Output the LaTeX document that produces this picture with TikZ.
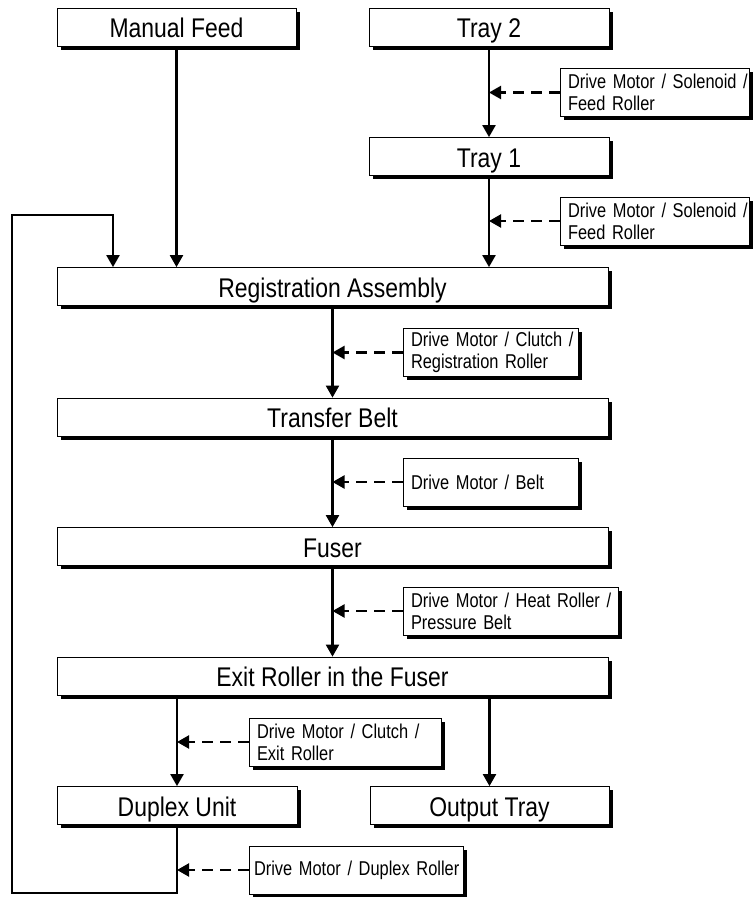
\documentclass[tikz,border=0pt]{standalone}
\usepackage{fontspec}
\setmainfont{Liberation Sans}[FakeStretch=0.85]
\newfontfamily\notefont{Liberation Sans}[FakeStretch=0.82]
\usetikzlibrary{arrows.meta,shadows}

\newcommand{\stagesize}{\fontsize{27}{30}\selectfont}
\newcommand{\notesize}{\notefont\fontsize{20}{22}\selectfont}

\begin{document}
\begin{tikzpicture}[x=1pt, y=-1pt,
  box/.style={draw, line width=0.8pt, fill=white, inner sep=0pt,
    drop shadow={shadow xshift=3.5pt, shadow yshift=-3.5pt, opacity=1, fill=black}},
  stage/.style={box, minimum width=#1, minimum height=38pt, font=\stagesize,
    text height=21pt, text depth=0pt},
  note/.style={box, text width=#1, inner xsep=8pt, minimum height=48pt,
    align=left, font=\notesize},
  flow/.style={line width=2.2pt, -{Triangle[length=12pt,width=13pt]}},
  ctrl/.style={line width=2.2pt, dash pattern=on 11pt off 7pt,
    -{Triangle[length=12pt,width=13pt]}}]
  \useasboundingbox (0,0) rectangle (755,897);

  % paper path stages
  \node[stage=239pt] (manual) at (176.5,27) {Manual Feed};
  \node[stage=240pt] (tray2) at (489,27) {Tray 2};
  \node[stage=240pt] (tray1) at (489,156.5) {Tray 1};
  \node[stage=551pt] (reg) at (332.5,286.5) {Registration Assembly};
  \node[stage=551pt] (belt) at (332.5,417) {Transfer Belt};
  \node[stage=551pt] (fuser) at (332.5,546.5) {Fuser};
  \node[stage=551pt] (exit) at (332.5,676) {Exit Roller in the Fuser};
  \node[stage=240pt] (duplex) at (177,805.5) {Duplex Unit};
  \node[stage=239pt] (output) at (489.5,805.5) {Output Tray};

  % drive parts
  \node[note=173pt] (feed2) at (654.5,92.5) {\mbox{Drive Motor / Solenoid /}\\Feed Roller};
  \node[note=173pt] (feed1) at (654.5,221) {\mbox{Drive Motor / Solenoid /}\\Feed Roller};
  \node[note=159pt] (regdrive) at (490.5,352.5) {\mbox{Drive Motor / Clutch /}\\Registration Roller};
  \node[note=159pt] (beltdrive) at (490.5,482) {Drive Motor / Belt};
  \node[note=199pt] (fuserdrive) at (510.5,611) {\mbox{Drive Motor / Heat Roller /}\\Pressure Belt};
  \node[note=176pt] (exitdrive) at (345,742) {\mbox{Drive Motor / Clutch /}\\Exit Roller};
  \node[note=204pt, inner xsep=5pt] (duplexdrive) at (356,870) {\mbox{Drive Motor / Duplex Roller}};

  % paper flow
  \draw[flow] (manual) -- (manual |- reg.north);
  \draw[flow] (tray2) -- (tray1);
  \draw[flow] (tray1) -- (tray1 |- reg.north);
  \draw[flow] (reg) -- (belt);
  \draw[flow] (belt) -- (fuser);
  \draw[flow] (fuser) -- (exit);
  \draw[flow] (duplex |- exit.south) -- (duplex);
  \draw[flow] (output |- exit.south) -- (output);

  % duplex return path
  \coordinate (loopbot) at (12,893);
  \coordinate (looptop) at (113,215);
  \draw[flow] (duplex) -- (duplex |- loopbot) -- (loopbot) |- (looptop)
    -- (looptop |- reg.north);

  % drives acting on the path
  \draw[ctrl] (feed2) -- (feed2 -| tray2);
  \draw[ctrl] (feed1) -- (feed1 -| tray1);
  \draw[ctrl] (regdrive) -- (regdrive -| reg);
  \draw[ctrl] (beltdrive) -- (beltdrive -| belt);
  \draw[ctrl] (fuserdrive) -- (fuserdrive -| fuser);
  \draw[ctrl] (exitdrive) -- (exitdrive -| duplex);
  \draw[ctrl] (duplexdrive) -- (duplexdrive -| duplex);
\end{tikzpicture}
\end{document}
